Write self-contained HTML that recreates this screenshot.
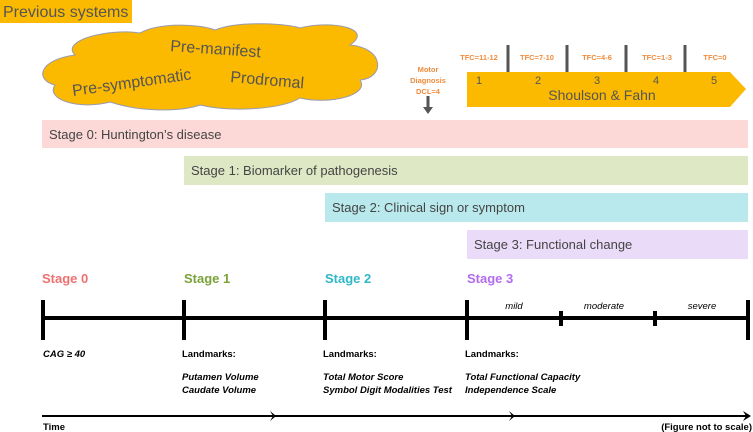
<!DOCTYPE html>
<html><head><meta charset="utf-8"><style>
body{margin:0;background:#fff}
svg{display:block;font-family:"Liberation Sans",sans-serif}
</style></head><body>
<svg width="753" height="432" viewBox="0 0 753 432" xmlns="http://www.w3.org/2000/svg">
<rect x="0" y="0" width="132" height="23" fill="#fbb900"/>
<text x="3" y="17" font-size="16" fill="#555">Previous systems</text>
<path d="M75,55 C60,40 110,28 140,33 C160,22 200,24 215,30 C240,20 290,24 300,28 C330,20 375,28 350,45 C385,48 385,78 360,80 C370,95 330,105 300,98 C280,110 230,112 200,105 C180,112 140,112 110,102 C80,110 45,100 55,85 C35,80 38,60 75,55 Z" fill="#fbb900" stroke="#9a9ab0" stroke-width="1"/>
<text x="170" y="51" font-size="16" fill="#555" transform="rotate(4 170 51)">Pre-manifest</text>
<text x="73" y="96" font-size="16" fill="#555" transform="rotate(-8 73 96)">Pre-symptomatic</text>
<text x="230" y="82" font-size="16" fill="#555" transform="rotate(5 230 82)">Prodromal</text>
<path d="M467,72 L730,72 L746,89 L730,107 L467,107 Z" fill="#fbb900"/>
<g stroke="#555" stroke-width="3"><line x1="508" y1="45" x2="508" y2="72"/><line x1="567" y1="45" x2="567" y2="72"/><line x1="626" y1="45" x2="626" y2="72"/><line x1="685" y1="45" x2="685" y2="72"/></g>
<g font-size="7.5" font-weight="bold" fill="#f08c3c" text-anchor="middle"><text x="479" y="60">TFC=11-12</text><text x="537" y="60">TFC=7-10</text><text x="597" y="60">TFC=4-6</text><text x="657" y="60">TFC=1-3</text><text x="715" y="60">TFC=0</text>
<text x="428" y="72">Motor</text><text x="428" y="83">Diagnosis</text><text x="428" y="94">DCL=4</text></g>
<g font-size="11" fill="#555" text-anchor="middle"><text x="479" y="84">1</text><text x="538" y="84">2</text><text x="597" y="84">3</text><text x="656" y="84">4</text><text x="714" y="84">5</text></g>
<text x="602" y="100" font-size="14" fill="#555" text-anchor="middle">Shoulson &amp; Fahn</text>
<line x1="428" y1="96" x2="428" y2="108" stroke="#555" stroke-width="3"/><path d="M423,107 L433,107 L428,114 Z" fill="#555"/>
<rect x="42" y="120" width="706" height="28" fill="#fcd9d7"/>
<rect x="184" y="156" width="564" height="29" fill="#dfe8c5"/>
<rect x="325" y="193" width="423" height="29" fill="#b9e9ec"/>
<rect x="467" y="230" width="281" height="29" fill="#eadcf8"/>
<g font-size="13" fill="#444"><text x="49" y="139">Stage 0: Huntington’s disease</text><text x="191" y="175">Stage 1: Biomarker of pathogenesis</text><text x="332" y="212">Stage 2: Clinical sign or symptom</text><text x="474" y="249">Stage 3: Functional change</text></g>
<g font-size="13" font-weight="bold"><text x="42" y="283" fill="#f07070">Stage 0</text><text x="184" y="283" fill="#7aa23a">Stage 1</text><text x="325" y="283" fill="#2fb8c8">Stage 2</text><text x="467" y="283" fill="#b36bf0">Stage 3</text></g>
<g stroke="#000"><line x1="42" y1="318" x2="748" y2="318" stroke-width="4"/>
<g stroke-width="4"><line x1="43" y1="300" x2="43" y2="340"/><line x1="184" y1="300" x2="184" y2="340"/><line x1="325" y1="300" x2="325" y2="340"/><line x1="467" y1="300" x2="467" y2="340"/><line x1="748" y1="300" x2="748" y2="340"/><line x1="561" y1="311" x2="561" y2="326"/><line x1="655" y1="311" x2="655" y2="326"/></g>
<line x1="42" y1="416" x2="748" y2="416" stroke-width="2"/></g>
<g fill="#000"><path d="M270,411 L276,416 L270,421 L273,416Z"/><path d="M509,411 L515,416 L509,421 L512,416Z"/><path d="M743,411 L751,416 L743,421 L746,416Z"/></g>
<g font-size="9.5" font-style="italic" fill="#000"><text x="514" y="309" text-anchor="middle">mild</text><text x="604" y="309" text-anchor="middle">moderate</text><text x="702" y="309" text-anchor="middle">severe</text>
<text x="43" y="357" font-weight="bold">CAG ≥ 40</text>
<g font-weight="bold"><text x="182" y="380">Putamen Volume</text><text x="182" y="393">Caudate Volume</text><text x="323" y="380">Total Motor Score</text><text x="323" y="393">Symbol Digit Modalities Test</text><text x="465" y="380">Total Functional Capacity</text><text x="465" y="393">Independence Scale</text></g></g>
<g font-size="9.5" fill="#000" font-weight="bold"><text x="182" y="357">Landmarks:</text><text x="323" y="357">Landmarks:</text><text x="465" y="357">Landmarks:</text><text x="43" y="430">Time</text><text x="752" y="430" text-anchor="end">(Figure not to scale)</text></g>
</svg>
</body></html>
